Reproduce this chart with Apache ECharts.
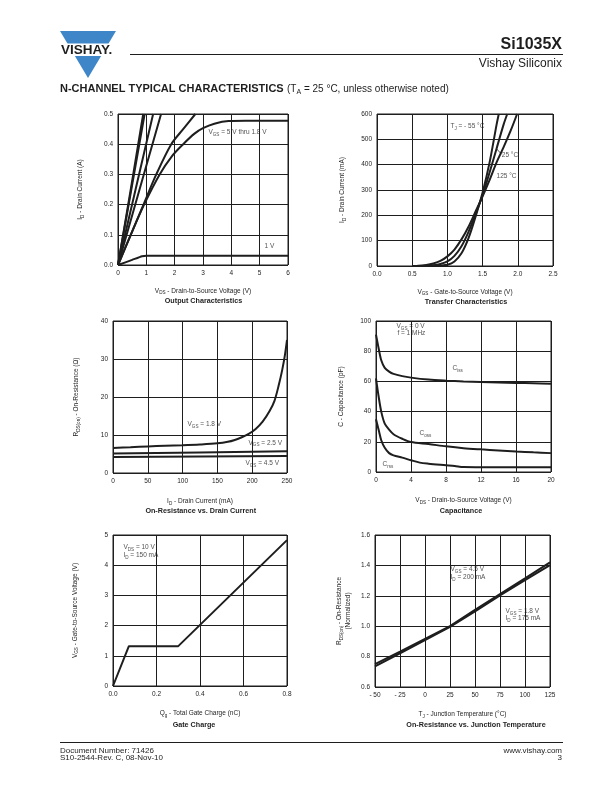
<!DOCTYPE html>
<html>
<head>
<meta charset="utf-8">
<script src="https://cdn.jsdelivr.net/npm/echarts@6/dist/echarts.min.js"></script>
<style>
html,body{margin:0;padding:0;background:#fff}
#page{width:612px;height:792px}
</style>
</head>
<body>
<div id="page"></div>
<script>
var FONT = '"Liberation Sans", Arial, Helvetica, sans-serif';
var INK = '#1e1e1e';
var BLUE = '#3f86c9';

// Output Characteristics - VDS (V) vs ID (A)
var outLineA = [[0,0],[0.45,0.25],[0.89,0.5]];
var outLineB = [[0,0],[0.47,0.25],[0.94,0.5]];
var outLineC = [[0,0],[0.62,0.25],[1.24,0.5]];
var outLineD = [[0,0],[0.76,0.25],[1.52,0.5]];
var outCurveE = [[0,0],[0.45,0.1],[0.9,0.2],[1.35,0.3],[1.88,0.4],[2.3,0.45],[2.73,0.5]];
var outCurveF = [[0,0],[0.45,0.1],[0.92,0.2],[1.47,0.3],[1.9,0.36],[2.3,0.4],[2.7,0.435],[3,0.453],[3.4,0.468],[3.9,0.477],[4.5,0.478],[6,0.478]];
var out1V = [[0,0],[0.5,0.017],[0.85,0.029],[1,0.031],[1.5,0.031],[6,0.031]];

// Transfer Characteristics - VGS (V) vs ID (mA)
var trM55 = [[0.55,0],[0.8,1],[0.9,2],[1.0,5],[1.1,18],[1.2,50],[1.3,110],[1.4,195],[1.5,290],[1.6,410],[1.7,560],[1.73,600]];
var tr25 = [[0.52,0],[0.7,1],[0.8,3],[0.9,8],[1.0,18],[1.1,40],[1.2,78],[1.3,135],[1.4,205],[1.5,280],[1.6,370],[1.7,465],[1.8,560],[1.85,600]];
var tr125 = [[0.5,0],[0.6,1],[0.7,4],[0.8,10],[0.9,20],[1.0,38],[1.1,65],[1.2,105],[1.3,155],[1.4,215],[1.5,275],[1.6,340],[1.7,410],[1.8,470],[1.9,535],[1.99,600]];
var tr25Leader = [[1.70,462],[1.77,441]];

// On-Resistance vs. Drain Current - ID (mA) vs RDS(on) (ohm)
var ron18 = [[0,6.6],[25,6.8],[50,7.0],[75,7.15],[100,7.3],[125,7.5],[150,7.8],[165,8.2],[175,8.7],[185,9.4],[195,10.3],[205,11.6],[215,13.5],[225,16.3],[232,19],[238,23],[243,27],[247,31],[250,35]];
var ron25 = [[0,5.1],[125,5.4],[250,5.7]];
var ron45 = [[0,4.2],[125,4.35],[250,4.5]];

// Capacitance - VDS (V) vs C (pF)
var cIss = [[0,91],[0.3,82],[0.6,74],[1,69],[1.5,66.5],[2,65],[3,63.5],[4,62.5],[6,61.2],[8,60.5],[10,60],[12,59.6],[14,59.3],[16,59],[18,58.8],[20,58.5]];
var cOss = [[0,62],[0.3,50],[0.6,40],[1,32],[1.5,28],[2,25],[3,22],[4,19.8],[6,18.5],[8,17],[10,15.8],[12,15],[14,14.3],[16,13.6],[18,13],[20,12.5]];
var cRss = [[0,35],[0.3,28],[0.6,21],[1,16],[1.5,12.5],[2,11],[3,9.5],[4,7.8],[5,6.2],[6,5.5],[8,4.5],[9,4],[10,3.3],[12,3.2],[16,3.2],[20,3.2]];

// Gate Charge - Qg (nC) vs VGS (V)
var gateQ = [[0,0],[0.073,1.32],[0.3,1.32],[0.8,4.83]];

// On-Resistance vs. Junction Temperature - TJ (C) vs normalized RDS(on)
var rt45 = [[-50,0.75],[-25,0.833],[0,0.917],[25,1.0],[50,1.107],[75,1.212],[100,1.315],[125,1.42]];
var rt18 = [[-50,0.735],[-25,0.822],[0,0.908],[25,0.995],[50,1.098],[75,1.203],[100,1.303],[125,1.402]];

// annotation texts, in data coordinates of each chart
var outNotes = [[3.21,0.437,'{n|V}{s|GS}{n| = 5 V thru 1.8 V}'],[5.19,0.061,'{n|1 V}']];
var trNotes = [[1.05,549,'{n|T}{s|J}{n| = - 55 °C}'],[1.78,434,'{n|25 °C}'],[1.705,351,'{n|125 °C}']];
var ronNotes = [[107.8,12.6,'{n|V}{s|GS}{n| = 1.8 V}'],[195.4,7.8,'{n|V}{s|GS}{n| = 2.5 V}'],[191,2.4,'{n|V}{s|GS}{n| = 4.5 V}']];
var capNotes = [[2.4,96,'{n|V}{s|GS}{n| = 0 V}'],[2.5,91.7,'{n|f = 1 MHz}'],[8.8,68.2,'{n|C}{s|iss}'],[5.03,25.2,'{n|C}{s|oss}'],[0.8,4.6,'{n|C}{s|rss}']];
var gateNotes = [[0.05,4.57,'{n|V}{s|DS}{n| = 10 V}'],[0.05,4.3,'{n|I}{s|D}{n| = 150 mA}']];
var rtNotes = [[26,1.37,'{n|V}{s|GS}{n| = 4.5 V}'],[26,1.317,'{n|I}{s|D}{n| = 200 mA}'],[81,1.093,'{n|V}{s|GS}{n| = 1.8 V}'],[81,1.047,'{n|I}{s|D}{n| = 175 mA}']];

var RICH = {
    n: {fontFamily: FONT, fontSize: 6.5, color: INK, lineHeight: 9},
    s: {fontFamily: FONT, fontSize: 4.6, color: INK, lineHeight: 5, verticalAlign: 'bottom'}
};

function grid(l, t, w, h) {
    return {left: l, top: t, width: w, height: h, show: true, borderColor: INK, borderWidth: 1};
}
function axis(gi, min, max, step, name, gap, dec) {
    return {
        type: 'value', gridIndex: gi, min: min, max: max, interval: step,
        axisLine: {show: false}, axisTick: {show: false},
        splitLine: {show: true, lineStyle: {color: INK, width: 1}},
        axisLabel: {color: INK, fontFamily: FONT, fontSize: 6.5, margin: 5,
            formatter: function (v) {
                var s = v.toFixed(dec);
                return v < 0 ? '- ' + s.slice(1) : s;
            }},
        name: name, nameLocation: 'middle', nameGap: gap,
        nameTextStyle: {rich: RICH, fontFamily: FONT, fontSize: 6.5, color: INK}
    };
}
function curve(gi, data, smooth, w) {
    return {type: 'line', xAxisIndex: gi, yAxisIndex: gi, data: data, symbol: 'none',
        smooth: smooth, silent: true, z: 3,
        lineStyle: {color: INK, width: w || 2}};
}
function notes(gi, list) {
    return {type: 'scatter', xAxisIndex: gi, yAxisIndex: gi, symbolSize: 1, silent: true, z: 4,
        itemStyle: {color: 'rgba(0,0,0,0)'},
        data: list.map(function (d) { return {value: [d[0], d[1]], name: d[2]}; }),
        label: {show: true, position: [0, 0], align: 'left', verticalAlign: 'middle',
            fontFamily: FONT, fontSize: 6.5, color: INK, rich: RICH,
            formatter: function (p) { return p.name; }}};
}
function text(x, y, str, font, align) {
    return {type: 'text', x: x, y: y, silent: true,
        style: {text: str, font: font, fill: INK, align: align || 'left', verticalAlign: 'middle'}};
}

var chart = echarts.init(document.getElementById('page'));
chart.setOption({
    animation: false,
    grid: [
        grid(118, 114, 170, 151),
        grid(377, 114, 176, 152),
        grid(113, 321, 174, 152),
        grid(376, 321, 175, 151),
        grid(113, 535, 174, 151),
        grid(375, 535, 175, 152)
    ],
    xAxis: [
        axis(0, 0, 6, 1, '{n|V}{s|DS}{n| - Drain-to-Source Voltage (V)}', 21.7, 0),
        axis(1, 0, 2.5, 0.5, '{n|V}{s|GS}{n| - Gate-to-Source Voltage (V)}', 21.7, 1),
        axis(2, 0, 250, 50, '{n|I}{s|D}{n| - Drain Current (mA)}', 24, 0),
        axis(3, 0, 20, 4, '{n|V}{s|DS}{n| - Drain-to-Source Voltage (V)}', 24, 0),
        axis(4, 0, 0.8, 0.2, '{n|Q}{s|g}{n| - Total Gate Charge (nC)}', 23, 1),
        axis(5, -50, 125, 25, '{n|T}{s|J}{n| - Junction Temperature (°C)}', 23, 0)
    ],
    yAxis: [
        axis(0, 0, 0.5, 0.1, '{n|I}{s|D}{n| - Drain Current (A)}', 32.8, 1),
        axis(1, 0, 600, 100, '{n|I}{s|D}{n| - Drain Current (mA)}', 30, 0),
        axis(2, 0, 40, 10, '{n|R}{s|DS(on)}{n| - On-Resistance (Ω)}', 32, 0),
        axis(3, 0, 100, 20, '{n|C - Capacitance (pF)}', 30, 0),
        axis(4, 0, 5, 1, '{n|V}{s|GS}{n| - Gate-to-Source Voltage (V)}', 33.5, 0),
        axis(5, 0.6, 1.6, 0.2, '{n|R}{s|DS(on)}{n| - On-Resistance}\n{n|(Normalized)}', 22, 1)
    ],
    series: [
        curve(0, outLineA, false), curve(0, outLineB, false), curve(0, outLineC, false), curve(0, outLineD, false),
        curve(0, outCurveE, 0.3), curve(0, outCurveF, 0.3), curve(0, out1V, 0.2),
        notes(0, outNotes),
        curve(1, trM55, 0.3), curve(1, tr25, 0.3), curve(1, tr125, 0.3), curve(1, tr25Leader, false, 0.8),
        notes(1, trNotes),
        curve(2, ron18, 0.3), curve(2, ron25, false), curve(2, ron45, false),
        notes(2, ronNotes),
        curve(3, cIss, 0.3), curve(3, cOss, 0.3), curve(3, cRss, 0.3),
        notes(3, capNotes),
        curve(4, gateQ, false),
        notes(4, gateNotes),
        curve(5, rt45, false), curve(5, rt18, false),
        notes(5, rtNotes)
    ],
    graphic: [
        // logo
        {type: 'polygon', silent: true, shape: {points: [[60, 31], [116, 31], [88, 78]]}, style: {fill: BLUE}},
        {type: 'rect', silent: true, shape: {x: 56, y: 43.5, width: 64, height: 12.5}, style: {fill: '#fff'}},
        text(86.7, 49.8, 'VISHAY.', 'bold 13.5px ' + FONT, 'center'),
        // header
        {type: 'line', silent: true, shape: {x1: 130, y1: 54.5, x2: 563, y2: 54.5}, style: {stroke: INK, lineWidth: 1}},
        text(562, 44.5, 'Si1035X', 'bold 16px ' + FONT, 'right'),
        text(562, 63.5, 'Vishay Siliconix', '12px ' + FONT, 'right'),
        {type: 'text', x: 60, y: 89, silent: true, style: {
            text: '{b|N-CHANNEL TYPICAL CHARACTERISTICS} {r|(T}{s|A}{r| = 25 °C, unless otherwise noted)}',
            verticalAlign: 'middle', fill: INK,
            rich: {
                b: {fontFamily: FONT, fontWeight: 'bold', fontSize: 11, fill: INK, lineHeight: 13},
                r: {fontFamily: FONT, fontSize: 10, fill: INK, lineHeight: 13},
                s: {fontFamily: FONT, fontSize: 7, fill: INK, lineHeight: 7, verticalAlign: 'bottom'}
            }}},
        // chart titles
        text(203.5, 301, 'Output Characteristics', 'bold 7.2px ' + FONT, 'center'),
        text(466, 301.7, 'Transfer Characteristics', 'bold 7.2px ' + FONT, 'center'),
        text(200.7, 511, 'On-Resistance vs. Drain Current', 'bold 7.2px ' + FONT, 'center'),
        text(461, 511, 'Capacitance', 'bold 7.2px ' + FONT, 'center'),
        text(194, 725, 'Gate Charge', 'bold 7.2px ' + FONT, 'center'),
        text(476, 725, 'On-Resistance vs. Junction Temperature', 'bold 7.2px ' + FONT, 'center'),
        // footer
        {type: 'line', silent: true, shape: {x1: 60, y1: 742.5, x2: 563, y2: 742.5}, style: {stroke: INK, lineWidth: 1.2}},
        text(60, 750.8, 'Document Number: 71426', '8px ' + FONT, 'left'),
        text(60, 757.7, 'S10-2544-Rev. C, 08-Nov-10', '8px ' + FONT, 'left'),
        text(562, 750.8, 'www.vishay.com', '8px ' + FONT, 'right'),
        text(562, 757.7, '3', '8px ' + FONT, 'right')
    ]
});
</script>
</body>
</html>
